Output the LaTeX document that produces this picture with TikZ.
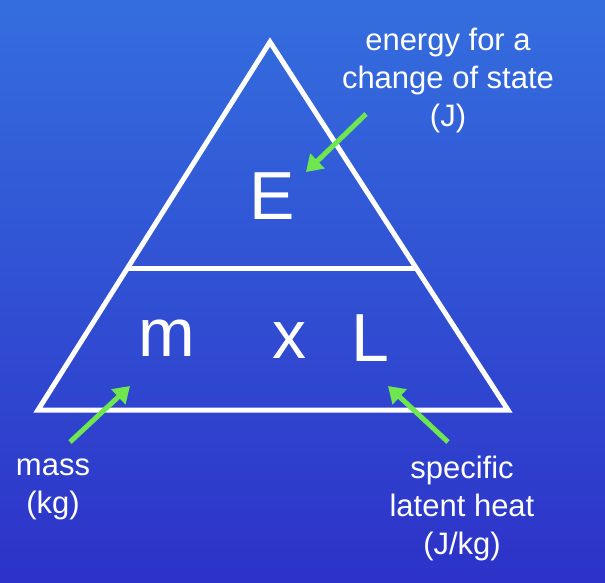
\documentclass[tikz,border=0pt]{standalone}
\usepackage{fontspec}
\setmainfont{Liberation Sans}
\usetikzlibrary{arrows.meta}
\definecolor{bgtop}{RGB}{52,110,222}
\definecolor{bgbot}{RGB}{45,50,200}
\definecolor{arrowgreen}{RGB}{110,230,80}
\tikzset{
  edge/.style={white, line width=5pt, line join=miter},
  big/.style={white, font=\fontsize{68}{68}\selectfont, inner sep=0pt},
  lbl/.style={white, font=\fontsize{31}{38}\selectfont, align=center, inner sep=0pt},
  point/.style={arrowgreen, line width=5pt, -{Triangle[length=16pt, width=20pt]}}
}
\begin{document}
\begin{tikzpicture}[x=1pt, y=-1pt]
\shade[top color=bgtop, bottom color=bgbot] (0,0) rectangle (605,582);
\useasboundingbox (0,0) rectangle (605,582);
% triangle
\coordinate (apex) at (270,42);
\coordinate (bl) at (38,410);
\coordinate (br) at (508,410);
\draw [edge] (apex) -- (br) -- (bl) -- cycle;
\draw [edge] (128,268) -- (416,268);
% symbols
\node [big] (E) at (272,196) {E};
\node [big] (m) at (167,338) {m};
\node [big] (x) at (289,341) {x};
\node [big] (L) at (370,338) {L};
% labels
\node [lbl] (energy) at (448,80) {energy for a\\change of state\\(J)};
\node [lbl] (mass) at (53,489) {mass\\(kg)};
\node [lbl] (heat) at (462,508) {specific\\latent heat\\(J/kg)};
% pointers
\coordinate (e0) at (366,114);
\coordinate (e1) at (306,172);
\coordinate (m0) at (70,442);
\coordinate (m1) at (130,386);
\coordinate (l0) at (448,442);
\coordinate (l1) at (388,386);
\draw [point] (e0) -- (e1);
\draw [point] (m0) -- (m1);
\draw [point] (l0) -- (l1);
\end{tikzpicture}
\end{document}
